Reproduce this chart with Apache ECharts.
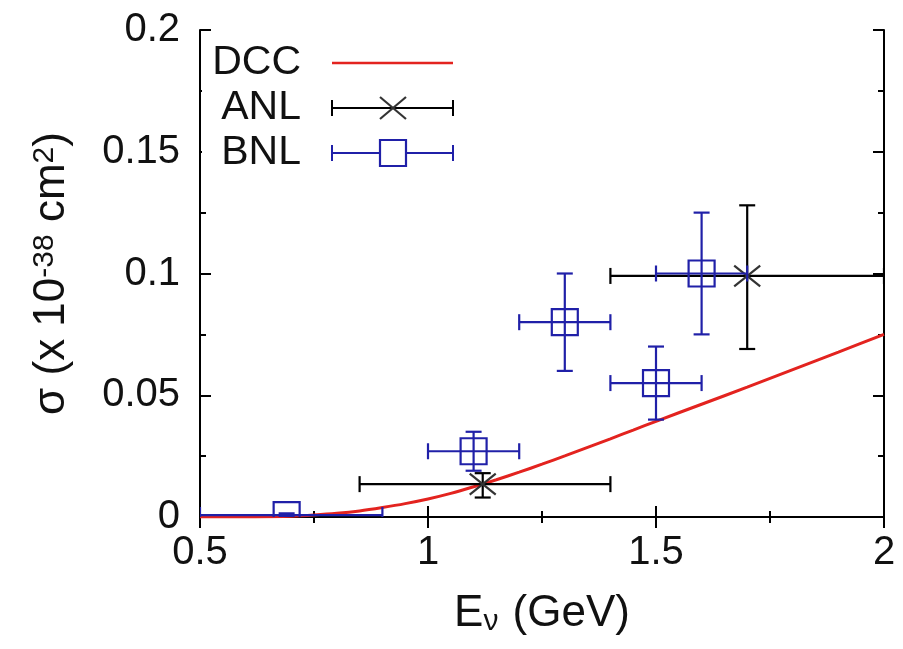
<!DOCTYPE html>
<html>
<head>
<meta charset="utf-8">
<script src="https://cdn.jsdelivr.net/npm/echarts@6/dist/echarts.min.js"></script>
<style>html,body{margin:0;padding:0;background:#fff}#c{width:903px;height:649px}</style>
</head>
<body>
<div id="c"></div>
<script>
// DCC model curve
const dccX = [0.5, 0.6, 0.65, 0.7, 0.75, 0.8, 0.85, 0.9, 0.95, 1.0, 1.05, 1.1, 1.15, 1.2, 1.25, 1.3, 1.35, 1.4, 1.45, 1.5, 1.6, 1.7, 1.8, 1.9, 2.0];
const dccY = [0, 0, 0.0001, 0.0003, 0.0008, 0.0015, 0.0025, 0.0039, 0.0055, 0.0074, 0.0097, 0.0124, 0.0153, 0.0184, 0.0217, 0.0251, 0.0286, 0.0321, 0.0357, 0.0393, 0.0463, 0.0533, 0.0605, 0.0677, 0.0750];
// ANL data
const anlX = [1.12, 1.70];
const anlY = [0.0135, 0.099];
const anlXLo = [0.85, 1.40];
const anlXHi = [1.40, 2.00];
const anlYLo = [0.008, 0.069];
const anlYHi = [0.018, 0.128];
// BNL data
const bnlX = [0.69, 1.10, 1.30, 1.50, 1.60];
const bnlY = [0.0008, 0.027, 0.080, 0.055, 0.100];
const bnlXLo = [0.50, 1.00, 1.20, 1.40, 1.50];
const bnlXHi = [0.90, 1.20, 1.40, 1.60, 1.70];
const bnlYLo = [0.000, 0.019, 0.060, 0.040, 0.075];
const bnlYHi = [0.0015, 0.035, 0.100, 0.070, 0.125];
// axis ticks
const xTicks = [0.5, 1, 1.5, 2];
const yTicks = [0, 0.05, 0.1, 0.15, 0.2];

const FONT = 'Liberation Sans, Arial, Helvetica, sans-serif';
const RED = '#e3231f', BLUE = '#2020a8', BLACK = '#000';

const dccData = dccX.map((x, i) => [x, dccY[i]]);
const anlData = anlX.map((x, i) => [x, anlY[i], anlXLo[i], anlXHi[i], anlYLo[i], anlYHi[i]]);
const bnlData = bnlX.map((x, i) => [x, bnlY[i], bnlXLo[i], bnlXHi[i], bnlYLo[i], bnlYHi[i]]);

function errRender(color, markerType, markerColor) {
  return function (params, api) {
    const x = api.value(0), y = api.value(1);
    const c = api.coord([x, y]);
    const l = api.coord([api.value(2), y]), r = api.coord([api.value(3), y]);
    const b = api.coord([x, api.value(4)]), t = api.coord([x, api.value(5)]);
    const cap = 8, s = 13;
    const st = { stroke: color, lineWidth: 2.2, fill: null };
    const ch = [
      { type: 'line', shape: { x1: l[0], y1: l[1], x2: r[0], y2: r[1] }, style: st },
      { type: 'line', shape: { x1: l[0], y1: l[1] - cap, x2: l[0], y2: l[1] + cap }, style: st },
      { type: 'line', shape: { x1: r[0], y1: r[1] - cap, x2: r[0], y2: r[1] + cap }, style: st },
      { type: 'line', shape: { x1: b[0], y1: b[1], x2: t[0], y2: t[1] }, style: st },
      { type: 'line', shape: { x1: b[0] - cap, y1: b[1], x2: b[0] + cap, y2: b[1] }, style: st },
      { type: 'line', shape: { x1: t[0] - cap, y1: t[1], x2: t[0] + cap, y2: t[1] }, style: st }
    ];
    const ms = { stroke: markerColor, lineWidth: 2.2, fill: null };
    if (markerType === 'square') {
      ch.push({ type: 'rect', shape: { x: c[0] - s, y: c[1] - s, width: 2 * s, height: 2 * s }, style: ms });
    } else {
      ch.push({ type: 'line', shape: { x1: c[0] - s, y1: c[1] - s * 0.8, x2: c[0] + s, y2: c[1] + s * 0.8 }, style: ms });
      ch.push({ type: 'line', shape: { x1: c[0] - s, y1: c[1] + s * 0.8, x2: c[0] + s, y2: c[1] - s * 0.8 }, style: ms });
    }
    return { type: 'group', children: ch };
  };
}

const tickStyle = { show: true, inside: true, length: 11, lineStyle: { color: BLACK, width: 2 } };
const minorStyle = { show: true, splitNumber: 2, length: 6, lineStyle: { color: BLACK, width: 2 } };
const lineStyle = { show: true, lineStyle: { color: BLACK, width: 2 } };

const chart = echarts.init(document.getElementById('c'), null, { renderer: 'canvas' });
chart.setOption({
  animation: false,
  backgroundColor: '#fff',
  grid: { left: 200, right: 19, top: 30, bottom: 132 },
  xAxis: [{
    type: 'value', min: 0.5, max: 2, interval: 0.5,
    axisLine: lineStyle, axisTick: tickStyle, minorTick: minorStyle, splitLine: { show: false },
    axisLabel: { fontSize: 40, fontFamily: FONT, color: '#111', margin: 16,
      formatter: v => xTicks.some(t => Math.abs(t - v) < 1e-9) ? String(v) : '' },
    name: '{a|E}{sub|ν}{a| (GeV)}', nameLocation: 'middle', nameGap: 74,
    nameTextStyle: { fontFamily: FONT, color: '#111',
      rich: { a: { fontSize: 44, fontFamily: FONT, color: '#111' },
              sub: { fontSize: 30, fontFamily: FONT, color: '#111', verticalAlign: 'bottom', padding: [16, 2, 0, 0] } } }
  }, {
    type: 'value', position: 'top', min: 0.5, max: 2, interval: 0.5,
    axisLine: lineStyle, axisTick: tickStyle, minorTick: minorStyle, splitLine: { show: false },
    axisLabel: { show: false }
  }],
  yAxis: [{
    type: 'value', min: 0, max: 0.2, interval: 0.05,
    axisLine: lineStyle, axisTick: tickStyle, minorTick: minorStyle, splitLine: { show: false },
    axisLabel: { fontSize: 40, fontFamily: FONT, color: '#111', margin: 20,
      formatter: v => yTicks.some(t => Math.abs(t - v) < 1e-9) ? String(+v.toFixed(3)) : '' },
    name: '{a|σ (x 10}{sup|-38}{a| cm}{sup|2}{a|)}', nameLocation: 'middle', nameGap: 126,
    nameTextStyle: { fontFamily: FONT, color: '#111',
      rich: { a: { fontSize: 44, fontFamily: FONT, color: '#111' },
              sup: { fontSize: 30, fontFamily: FONT, color: '#111', verticalAlign: 'top' } } }
  }, {
    type: 'value', position: 'right', min: 0, max: 0.2, interval: 0.05,
    axisLine: lineStyle, axisTick: tickStyle, minorTick: minorStyle, splitLine: { show: false },
    axisLabel: { show: false }
  }],
  series: [{
    name: 'DCC', type: 'line', data: dccData, smooth: 0.3, showSymbol: false, symbol: 'none',
    lineStyle: { color: RED, width: 3 }, z: 3
  }, {
    name: 'ANL', type: 'custom', data: anlData, clip: true, z: 4,
    encode: { x: 0, y: 1 },
    renderItem: errRender(BLACK, 'x', '#333')
  }, {
    name: 'BNL', type: 'custom', data: bnlData, clip: true, z: 5,
    encode: { x: 0, y: 1 },
    renderItem: errRender(BLUE, 'square', BLUE)
  }],
  graphic: [
    { type: 'rect', left: 202, top: 38, z: 10, shape: { width: 270, height: 140 }, style: { fill: '#fff' } },
    { type: 'text', z: 11, x: 301, y: 63, style: { text: 'DCC', font: '41px ' + FONT, fill: '#111', textAlign: 'right', textVerticalAlign: 'middle', align: 'right', verticalAlign: 'middle' } },
    { type: 'text', z: 11, x: 301, y: 108, style: { text: 'ANL', font: '41px ' + FONT, fill: '#111', textAlign: 'right', textVerticalAlign: 'middle', align: 'right', verticalAlign: 'middle' } },
    { type: 'text', z: 11, x: 301, y: 153, style: { text: 'BNL', font: '41px ' + FONT, fill: '#111', textAlign: 'right', textVerticalAlign: 'middle', align: 'right', verticalAlign: 'middle' } },
    { type: 'line', z: 11, shape: { x1: 332, y1: 63, x2: 453, y2: 63 }, style: { stroke: RED, lineWidth: 2.5 } },
    { type: 'line', z: 11, shape: { x1: 332, y1: 108, x2: 453, y2: 108 }, style: { stroke: BLACK, lineWidth: 2 } },
    { type: 'line', z: 11, shape: { x1: 332, y1: 100, x2: 332, y2: 116 }, style: { stroke: BLACK, lineWidth: 2 } },
    { type: 'line', z: 11, shape: { x1: 453, y1: 100, x2: 453, y2: 116 }, style: { stroke: BLACK, lineWidth: 2 } },
    { type: 'line', z: 11, shape: { x1: 380, y1: 97, x2: 406, y2: 119 }, style: { stroke: '#333', lineWidth: 2.2 } },
    { type: 'line', z: 11, shape: { x1: 380, y1: 119, x2: 406, y2: 97 }, style: { stroke: '#333', lineWidth: 2.2 } },
    { type: 'line', z: 11, shape: { x1: 332, y1: 153, x2: 453, y2: 153 }, style: { stroke: BLUE, lineWidth: 2 } },
    { type: 'line', z: 11, shape: { x1: 332, y1: 145, x2: 332, y2: 161 }, style: { stroke: BLUE, lineWidth: 2 } },
    { type: 'line', z: 11, shape: { x1: 453, y1: 145, x2: 453, y2: 161 }, style: { stroke: BLUE, lineWidth: 2 } },
    { type: 'rect', z: 12, shape: { x: 380, y: 140, width: 26, height: 26 }, style: { stroke: BLUE, lineWidth: 2.2, fill: '#fff' } }
  ]
});
</script>
</body>
</html>
